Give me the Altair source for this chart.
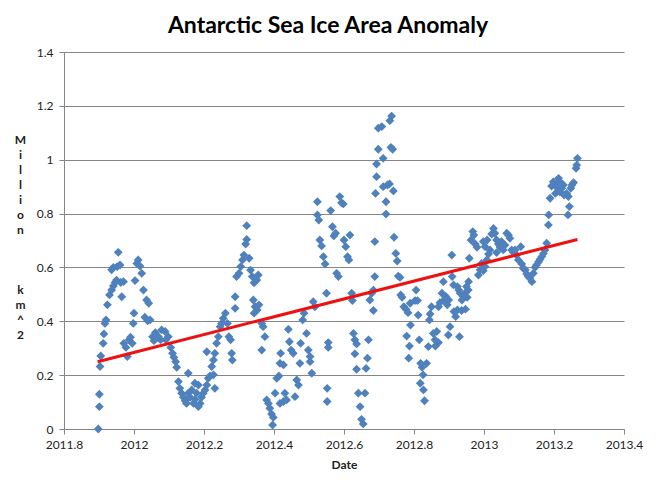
import altair as alt
import pandas as pd

# Observed anomaly points (decimal year, million km^2)
dates = [
    2011.898, 2011.901, 2011.901, 2011.903, 2011.905, 2011.912, 2011.914, 2011.917, 2011.920, 2011.924,
    2011.930, 2011.936, 2011.941, 2011.946, 2011.950, 2011.936, 2011.941, 2011.952, 2011.960, 2011.955,
    2011.965, 2011.962, 2011.970, 2011.971, 2011.977, 2011.981, 2011.986, 2011.990, 2011.995, 2011.998,
    2012.000, 2012.003, 2012.008, 2012.012, 2012.017, 2012.022, 2012.027, 2012.036, 2012.042, 2012.031,
    2012.039, 2012.046, 2012.053, 2012.061, 2012.070, 2012.079, 2012.089, 2012.098, 2012.057, 2012.076,
    2012.091, 2012.105, 2012.110, 2012.114, 2012.119, 2012.122, 2012.127, 2012.131, 2012.136, 2012.141,
    2012.146, 2012.150, 2012.155, 2012.155, 2012.160, 2012.165, 2012.170, 2012.174, 2012.179, 2012.184,
    2012.189, 2012.193, 2012.198, 2012.203, 2012.174, 2012.184, 2012.208, 2012.212, 2012.217, 2012.227,
    2012.231, 2012.208, 2012.222, 2012.227, 2012.231, 2012.236, 2012.241, 2012.246, 2012.250, 2012.255,
    2012.261, 2012.267, 2012.271, 2012.276, 2012.279, 2012.281, 2012.289, 2012.289, 2012.293, 2012.300,
    2012.305, 2012.310, 2012.314, 2012.319, 2012.322, 2012.322, 2012.329, 2012.333, 2012.338, 2012.343,
    2012.351, 2012.355, 2012.341, 2012.346, 2012.352, 2012.357, 2012.343, 2012.365, 2012.369, 2012.374,
    2012.365, 2012.379, 2012.384, 2012.388, 2012.393, 2012.396, 2012.398, 2012.403, 2012.408, 2012.414,
    2012.417, 2012.419, 2012.417, 2012.427, 2012.431, 2012.436, 2012.427, 2012.441, 2012.444, 2012.449,
    2012.455, 2012.460, 2012.465, 2012.470, 2012.474, 2012.476, 2012.482, 2012.486, 2012.493, 2012.498,
    2012.503, 2012.508, 2012.503, 2012.512, 2012.517, 2012.524, 2012.524, 2012.528, 2012.531, 2012.536,
    2012.541, 2012.546, 2012.550, 2012.552, 2012.552, 2012.555, 2012.555, 2012.562, 2012.567, 2012.571,
    2012.576, 2012.579, 2012.584, 2012.588, 2012.593, 2012.598, 2012.600, 2012.605, 2012.610, 2012.614,
    2012.617, 2012.622, 2012.624, 2012.627, 2012.631, 2012.636, 2012.631, 2012.636, 2012.641, 2012.646,
    2012.650, 2012.655, 2012.660, 2012.663, 2012.667, 2012.670, 2012.674, 2012.679, 2012.684, 2012.684,
    2012.688, 2012.688, 2012.690, 2012.693, 2012.693, 2012.698, 2012.698,
    2012.708, 2012.712, 2012.712, 2012.720, 2012.720, 2012.724, 2012.730, 2012.731, 2012.736, 2012.734,
    2012.739, 2012.741, 2012.743, 2012.748, 2012.752, 2012.755, 2012.760, 2012.762, 2012.766, 2012.771,
    2012.777, 2012.779, 2012.783, 2012.789, 2012.790, 2012.787, 2012.785, 2012.806, 2012.803, 2012.810,
    2012.812, 2012.815, 2012.819, 2012.823, 2012.826, 2012.818, 2012.827, 2012.830, 2012.836, 2012.841,
    2012.844, 2012.846, 2012.850, 2012.855, 2012.860, 2012.865, 2012.870, 2012.861, 2012.870, 2012.874,
    2012.880, 2012.884, 2012.886, 2012.891, 2012.895, 2012.899, 2012.898, 2012.903, 2012.908, 2012.909,
    2012.913, 2012.914, 2012.919, 2012.924, 2012.928, 2012.932, 2012.937, 2012.941, 2012.946, 2012.950,
    2012.955, 2012.930, 2012.924, 2012.936, 2012.947, 2012.952, 2012.956, 2012.958, 2012.963, 2012.968,
    2012.971, 2012.975, 2012.980, 2012.984, 2012.989, 2012.993, 2012.998, 2013.003, 2013.008, 2012.998,
    2013.003, 2013.009, 2013.013, 2013.017, 2013.022, 2013.027, 2013.031, 2013.036, 2013.041, 2013.036,
    2013.046, 2013.050, 2013.055, 2013.060, 2013.065, 2013.070, 2013.074, 2013.079, 2013.084, 2013.089,
    2013.093, 2013.098, 2013.105, 2013.108, 2013.112, 2013.118, 2013.122, 2013.127, 2013.131, 2013.137,
    2013.141, 2013.146, 2013.150, 2013.156, 2013.160, 2013.165, 2013.170, 2013.174, 2013.179, 2013.184,
    2013.185, 2013.189, 2013.193, 2013.198, 2013.204, 2013.208, 2013.213, 2013.217, 2013.222, 2013.227,
    2013.204, 2013.217, 2013.229, 2013.236, 2013.241, 2013.244, 2013.240, 2013.248, 2013.251, 2013.256,
    2013.263, 2013.265, 2013.267,
]
anomaly = [
    0.000, 0.083, 0.129, 0.232, 0.271, 0.318, 0.353, 0.392, 0.405, 0.461,
    0.498, 0.516, 0.531, 0.544, 0.553, 0.591, 0.600, 0.603, 0.609, 0.656,
    0.491, 0.544, 0.547, 0.318, 0.303, 0.269, 0.331, 0.341, 0.318, 0.392,
    0.430, 0.551, 0.615, 0.628, 0.605, 0.578, 0.516, 0.479, 0.467, 0.415,
    0.402, 0.405, 0.343, 0.358, 0.343, 0.368, 0.362, 0.343, 0.328, 0.331,
    0.331, 0.303, 0.281, 0.266, 0.250, 0.229, 0.176, 0.151, 0.133, 0.118,
    0.105, 0.095, 0.133, 0.207, 0.118, 0.145, 0.095, 0.110, 0.133, 0.083,
    0.095, 0.118, 0.133, 0.145, 0.170, 0.163, 0.163, 0.188, 0.197, 0.201,
    0.151, 0.287, 0.232, 0.256, 0.281, 0.318, 0.343, 0.380, 0.392, 0.411,
    0.430, 0.392, 0.343, 0.331, 0.281, 0.256, 0.448, 0.491, 0.566, 0.578,
    0.603, 0.628, 0.646, 0.687, 0.704, 0.755, 0.634, 0.590, 0.566, 0.543,
    0.553, 0.572, 0.479, 0.454, 0.442, 0.461, 0.430, 0.392, 0.380, 0.343,
    0.293, 0.108, 0.095, 0.077, 0.056, 0.015, 0.043, 0.133, 0.188, 0.197,
    0.244, 0.281, 0.095, 0.238, 0.133, 0.108, 0.102, 0.370, 0.324, 0.293,
    0.281, 0.120, 0.182, 0.163, 0.244, 0.318, 0.405, 0.430, 0.355, 0.293,
    0.269, 0.207, 0.250, 0.473, 0.454, 0.844, 0.795, 0.776, 0.702, 0.680,
    0.640, 0.613, 0.504, 0.151, 0.102, 0.303, 0.321, 0.811, 0.751, 0.717,
    0.727, 0.578, 0.566, 0.863, 0.840, 0.836, 0.702, 0.677, 0.640, 0.628,
    0.720, 0.504, 0.477, 0.355, 0.331, 0.316, 0.279, 0.222, 0.133, 0.083,
    0.036, 0.019, 0.133, 0.225, 0.263, 0.331, 0.479, 0.504, 0.440, 0.516,
    0.566, 0.696, 0.875, 0.937, 0.984, 1.039, 1.117,
    1.123, 1.005, 0.900, 0.844, 0.798, 0.906, 0.910, 1.145, 1.162, 1.046,
    1.039, 0.884, 0.712, 0.652, 0.624, 0.568, 0.563, 0.498, 0.489, 0.454,
    0.445, 0.345, 0.432, 0.467, 0.386, 0.308, 0.263, 0.516, 0.477, 0.477,
    0.423, 0.331, 0.244, 0.229, 0.201, 0.170, 0.145, 0.105, 0.244, 0.306,
    0.405, 0.427, 0.454, 0.355, 0.331, 0.362, 0.321, 0.308, 0.454, 0.469,
    0.504, 0.547, 0.479, 0.492, 0.461, 0.479, 0.349, 0.380, 0.646, 0.566,
    0.535, 0.436, 0.417, 0.529, 0.516, 0.504, 0.479, 0.492, 0.504, 0.529,
    0.516, 0.343, 0.442, 0.440, 0.445, 0.489, 0.547, 0.634, 0.702, 0.733,
    0.720, 0.687, 0.675, 0.572, 0.591, 0.615, 0.588, 0.603, 0.628, 0.696,
    0.677, 0.702, 0.650, 0.665, 0.724, 0.745, 0.727, 0.702, 0.687, 0.655,
    0.675, 0.696, 0.665, 0.683, 0.727, 0.720, 0.708, 0.665, 0.655, 0.665,
    0.646, 0.628, 0.677, 0.613, 0.597, 0.591, 0.576, 0.566, 0.560, 0.547,
    0.578, 0.600, 0.609, 0.621, 0.630, 0.640, 0.652, 0.665, 0.690, 0.758,
    0.795, 0.857, 0.902, 0.918, 0.910, 0.897, 0.931, 0.918, 0.894, 0.906,
    0.875, 0.880, 0.869, 0.875, 0.863, 0.826, 0.795, 0.894, 0.906, 0.915,
    0.968, 0.980, 1.005,
]

# Linear trend line end points
trend_dates = [2011.896, 2013.267]
trend_values = [0.250, 0.704]

x_ticks = [2011.8, 2012.0, 2012.2, 2012.4, 2012.6, 2012.8, 2013.0, 2013.2, 2013.4]
y_ticks = [0.0, 0.2, 0.4, 0.6, 0.8, 1.0, 1.2, 1.4]

pts = pd.DataFrame({"Date": dates, "Anomaly": anomaly})
trend = pd.DataFrame({"Date": trend_dates, "Anomaly": trend_values})

FONT = "Lato"
GRID = "#868686"
BLANK = "\u2800"  # invisible placeholder line

x_enc = alt.X(
    "Date:Q",
    scale=alt.Scale(domain=[2011.8, 2013.4], nice=False, zero=False),
    axis=alt.Axis(
        values=x_ticks, format=".1~f", grid=False, title="Date",
        domainColor=GRID, tickColor=GRID, tickSize=5, labelPadding=5,
        labelFont=FONT, labelFontSize=12, labelColor="#222",
        titleFont=FONT, titleFontSize=12, titleFontWeight="bold", titleColor="#222",
        titlePadding=9, labelFlush=False,
    ),
)
y_enc = alt.Y(
    "Anomaly:Q",
    scale=alt.Scale(domain=[0, 1.4], nice=False),
    axis=alt.Axis(
        values=y_ticks, format="~g", grid=True, gridColor=GRID,
        domainColor=GRID, tickColor=GRID, tickSize=5, labelPadding=6,
        labelFont=FONT, labelFontSize=12, labelColor="#222",
        title=["M", "i", "l", "l", "i", "o", "n", BLANK, BLANK, BLANK, "k", "m", "^", "2"],
        titleAngle=0, titleAlign="center", titleBaseline="top",
        titleX=-44, titleY=82, titleLineHeight=15,
        titleFont=FONT, titleFontSize=12, titleFontWeight="bold", titleColor="#222",
    ),
)

points = alt.Chart(pts).mark_point(
    shape="diamond", filled=True, size=78, color="#4F81BD", opacity=1
).encode(x=x_enc, y=y_enc)

line = alt.Chart(trend).mark_line(color="#EE1111", strokeWidth=3).encode(
    x="Date:Q", y="Anomaly:Q"
)

chart = (
    alt.layer(points, line)
    .properties(
        width=560,
        height=377,
        title=alt.TitleParams(
            "Antarctic Sea Ice Area Anomaly", font=FONT, fontSize=23,
            fontWeight="bold", color="black", anchor="middle", dx=-16, offset=8,
        ),
        autosize=alt.AutoSizeParams(type="none"),
        padding={"left": 56, "top": 44, "right": 24, "bottom": 50},
        background="white",
    )
    .configure_view(stroke=None)
)

chart.save("out.html", embed_options={"renderer": "svg", "actions": False})
